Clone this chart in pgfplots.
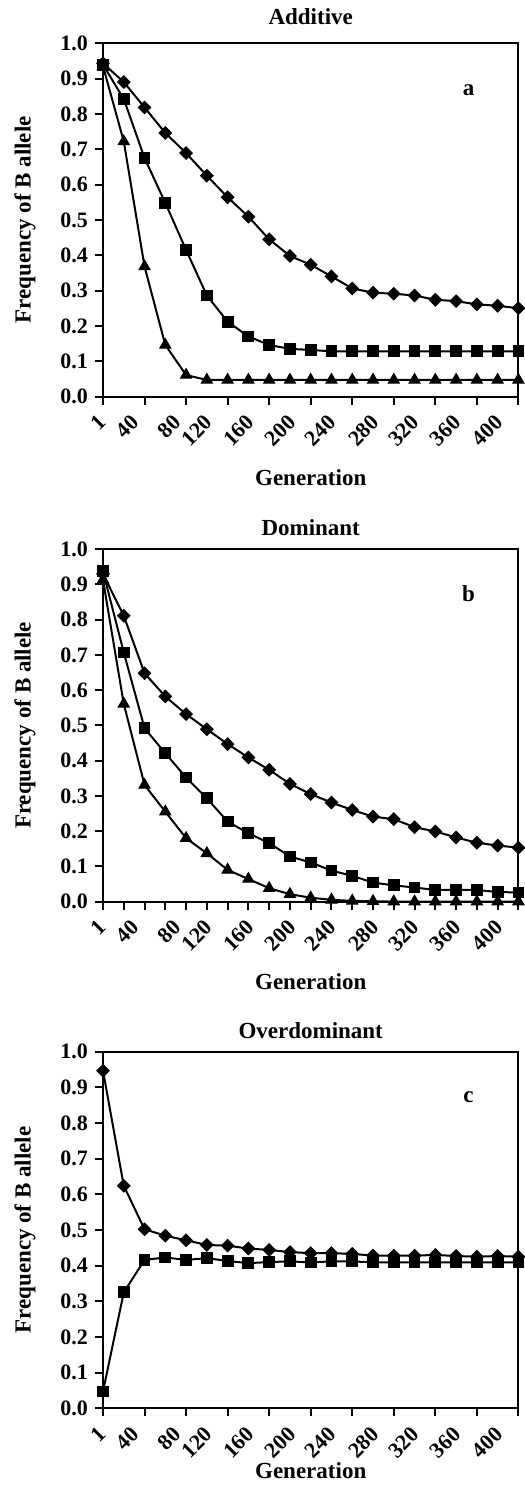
\documentclass[border=0pt]{standalone}
\usepackage{fontspec}
\setmainfont{Liberation Serif}
\usepackage{pgfplots}
\pgfplotsset{compat=1.18}
\usepackage{pgfplotstable}

% columns: category index (generation 1,20,40,...,400), three series
\pgfplotstableread{
x d s t
0 0.943 0.939 0.935
1 0.890 0.842 0.722
2 0.818 0.675 0.368
3 0.746 0.548 0.146
4 0.689 0.415 0.061
5 0.625 0.286 0.047
6 0.564 0.212 0.047
7 0.509 0.170 0.047
8 0.445 0.146 0.047
9 0.398 0.135 0.047
10 0.373 0.132 0.047
11 0.340 0.128 0.047
12 0.306 0.128 0.047
13 0.294 0.128 0.047
14 0.291 0.128 0.047
15 0.286 0.128 0.047
16 0.274 0.128 0.047
17 0.270 0.128 0.047
18 0.261 0.128 0.047
19 0.257 0.128 0.047
20 0.250 0.128 0.047
}\additive

\pgfplotstableread{
x d s t
0 0.930 0.937 0.913
1 0.811 0.707 0.561
2 0.648 0.492 0.331
3 0.582 0.421 0.255
4 0.532 0.352 0.180
5 0.489 0.293 0.137
6 0.447 0.227 0.090
7 0.409 0.194 0.064
8 0.374 0.166 0.038
9 0.334 0.128 0.021
10 0.305 0.111 0.011
11 0.281 0.088 0.005
12 0.260 0.073 0.002
13 0.241 0.054 0.001
14 0.234 0.046 0.000
15 0.211 0.040 0.000
16 0.199 0.033 0.000
17 0.182 0.033 0.000
18 0.167 0.033 0.000
19 0.159 0.027 0.000
20 0.153 0.026 0.000
}\dominant

\pgfplotstableread{
x d s
0 0.947 0.047
1 0.624 0.325
2 0.502 0.416
3 0.484 0.423
4 0.471 0.416
5 0.458 0.421
6 0.456 0.413
7 0.448 0.407
8 0.444 0.410
9 0.438 0.412
10 0.435 0.409
11 0.435 0.412
12 0.433 0.412
13 0.428 0.409
14 0.428 0.409
15 0.428 0.409
16 0.430 0.409
17 0.427 0.409
18 0.425 0.409
19 0.427 0.409
20 0.425 0.409
}\overdominant

\pgfplotsset{
  every axis title shift=0pt,
  genaxis/.style={
    scale only axis, width=207.7pt,
    xmin=0, xmax=20, ymin=0, ymax=1,
    clip=false,
    axis line style={line width=1pt},
    every tick/.style={black, line width=1pt},
    tick align=outside, major tick length=4pt, minor tick length=4pt,
    tick pos=left,
    xtick={0,2,...,20},
    xticklabels={},
    % rotated generation labels, placed as Excel sets them
    extra x ticks={0,1.59,3.60,5.12,7.13,9.14,11.06,13.15,15.07,17.08,19.09},
    extra x tick labels={1,40,80,120,160,200,240,280,320,360,400},
    extra x tick style={major tick length=0pt,
      xticklabel style={xshift=-3pt, yshift=-8.3pt, rotate=45, anchor=north east, inner sep=0pt}},
    ytick={0,0.1,...,1.01},
    ticklabel style={font=\fontsize{11}{12}\selectfont\bfseries},
    yticklabel style={/pgf/number format/.cd, fixed, zerofill, precision=1, assume math mode=true},
    title style={font=\fontsize{11.5}{13}\selectfont\bfseries, at={(0.5,1)}, anchor=base},
    xlabel style={font=\fontsize{11.5}{13}\selectfont\bfseries, at={(0.5,0)}, anchor=base},
    ylabel style={font=\fontsize{11.5}{13}\selectfont\bfseries, at={(-0.188,0.5)}, anchor=center},
    xlabel={Generation},
    ylabel={Frequency of B allele},
  },
  dia/.style={black, line width=1pt, mark=square*, mark size=2.2pt, mark options={rotate=45, line width=0.5pt}},
  sq/.style={black, line width=1pt, mark=square*, mark size=2.7pt, mark options={line width=0.5pt}},
  tri/.style={black, line width=1pt, mark=triangle*, mark size=3.2pt, mark options={line width=0.5pt}},
}
\newcommand{\panelfont}{\fontsize{11.5}{13}\selectfont\bfseries}

\begin{document}
\begin{tikzpicture}
\path[use as bounding box] (0,0) rectangle (262pt,745.5pt);

\begin{axis}[genaxis, at={(51.5pt,547.2pt)}, anchor=south west, height=176.7pt,
  title={Additive}, title style={yshift=9.2pt}, xlabel style={yshift=-44.5pt}]
\addplot[tri] table[x=x, y=t] {\additive};
\addplot[sq] table[x=x, y=s] {\additive};
\addplot[dia] table[x=x, y=d] {\additive};
\node[font=\panelfont] at (axis cs:17.6,0.867) {a};
\end{axis}

\begin{axis}[genaxis, at={(51.5pt,294.7pt)}, anchor=south west, height=176.2pt,
  minor xtick={1,3,...,19},
  title={Dominant}, title style={yshift=6.8pt}, xlabel style={yshift=-44pt}]
\addplot[tri] table[x=x, y=t] {\dominant};
\addplot[sq] table[x=x, y=s] {\dominant};
\addplot[dia] table[x=x, y=d] {\dominant};
\node[font=\panelfont] at (axis cs:17.6,0.875) {b};
\end{axis}

\begin{axis}[genaxis, at={(51.5pt,41.4pt)}, anchor=south west, height=178.2pt,
  title={Overdominant}, title style={yshift=6.5pt}, xlabel style={yshift=-35pt}]
\addplot[sq] table[x=x, y=s] {\overdominant};
\addplot[dia] table[x=x, y=d] {\overdominant};
\node[font=\panelfont] at (axis cs:17.6,0.874) {c};
\end{axis}
\end{tikzpicture}
\end{document}
